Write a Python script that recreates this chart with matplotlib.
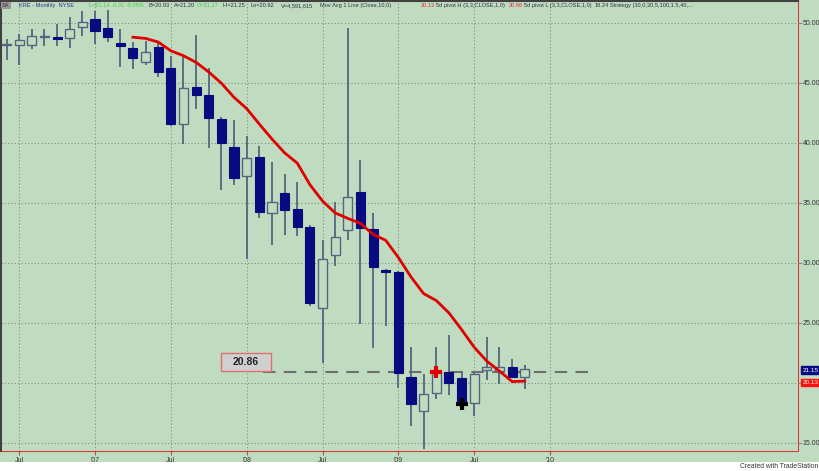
import numpy as np
import pandas as pd
import matplotlib
matplotlib.use('Agg')
import matplotlib.pyplot as plt
import matplotlib.transforms as mtransforms
from matplotlib import font_manager
from matplotlib.patches import Rectangle

# DATA  (KRE monthly bars, Jun 2006 .. Nov 2009)
opens  = [48.10, 48.15, 48.15, 48.80, 48.75, 48.70, 49.60, 50.28, 49.53, 48.28,
          47.92, 46.73, 48.00, 46.20, 41.56, 44.67, 43.95, 41.95, 39.62, 37.23,
          38.83, 34.17, 35.78, 34.45, 33.00, 26.25, 30.64, 32.72, 35.92, 32.78,
          29.40, 29.25, 20.50, 17.67, 19.17, 20.89, 20.36, 18.33, 21.08, 21.00,
          21.27, 20.50]
highs  = [48.60, 49.06, 49.45, 49.47, 49.87, 50.45, 51.00, 50.94, 51.06, 49.45,
          48.37, 48.50, 48.33, 47.22, 47.10, 48.98, 46.20, 42.17, 41.90, 40.56,
          39.73, 38.42, 37.39, 36.70, 33.10, 31.89, 35.08, 49.53, 38.56, 34.17,
          29.45, 29.30, 22.95, 20.73, 22.95, 23.97, 20.78, 20.83, 23.78, 23.00,
          21.95, 21.48]
lows   = [46.90, 46.47, 47.78, 48.06, 48.06, 47.87, 48.90, 48.20, 48.42, 46.28,
          46.12, 46.44, 45.45, 41.39, 39.90, 42.78, 39.53, 36.06, 36.48, 30.30,
          33.70, 31.48, 32.31, 32.22, 26.40, 21.62, 29.72, 31.89, 24.89, 22.87,
          24.73, 19.53, 16.42, 14.45, 18.61, 18.97, 17.78, 17.22, 20.22, 19.90,
          20.36, 19.44]
closes = [48.20, 48.55, 48.90, 48.85, 48.65, 49.50, 50.05, 49.33, 48.83, 48.08,
          47.08, 47.56, 45.87, 41.56, 44.53, 43.95, 42.03, 40.00, 37.03, 38.73,
          34.20, 35.08, 34.39, 33.00, 26.62, 30.28, 32.11, 35.44, 32.86, 29.62,
          29.20, 20.78, 18.20, 19.08, 20.86, 20.00, 18.24, 20.70, 21.27, 21.33,
          20.44, 21.15]

tick_pos    = [1, 7, 13, 19, 25, 31, 37, 43]
tick_labels = ['Jul', "'07", 'Jul', "'08", 'Jul', "'09", 'Jul', "'10"]
price_ticks = [15, 20, 25, 30, 35, 40, 45, 50]

MA_LEN = 10
pivot_h_bar, pivot_l_bar = 34, 36
pivot_h = 20.86

BG = '#c0dcc0'
DOWN = '#0a0a80'
WICK = '#55657f'

# small narrow font like the TradeStation screen font
installed = {f.name for f in font_manager.fontManager.ttflist}
if 'Liberation Sans Narrow' in installed:
    HFONT, HSIZE = 'Liberation Sans Narrow', 5.0
else:
    HFONT, HSIZE = 'Liberation Sans', 4.1
plt.rcParams['font.family'] = ['Liberation Sans', 'DejaVu Sans']

x = np.arange(len(closes))
o = np.array(opens); h = np.array(highs); l = np.array(lows); c = np.array(closes)
ma = pd.Series(c).rolling(MA_LEN).mean().values

fig = plt.figure(figsize=(8.2, 4.71), dpi=100, facecolor=BG)
ax = fig.add_axes([1/820, 1 - 450.7/471, 796.7/820, 449.7/471])
ax.set_facecolor(BG)

# grid
ax.set_xticks(tick_pos)
ax.set_xticklabels(tick_labels)
ax.set_yticks(price_ticks)
ax.set_yticklabels(['' if p == 20 else f'{p:.2f}' for p in price_ticks])
ax.grid(True, color='#7f917f', linestyle=(0, (1, 2)), linewidth=0.8, zorder=0)

# candles
up = c >= o
ax.vlines(x, l, h, color=WICK, linewidth=1.3, zorder=2)
body = np.maximum(np.abs(c - o), 0.12)
ax.bar(x[~up], body[~up], bottom=np.minimum(o, c)[~up], width=0.72,
       color=DOWN, edgecolor=DOWN, linewidth=0.8, zorder=3)
ax.bar(x[up], body[up], bottom=np.minimum(o, c)[up], width=0.72,
       color=BG, edgecolor=WICK, linewidth=1.0, zorder=3)

# moving average (first value drawn on bar 11, like TradeStation)
ax.plot(x[MA_LEN:], ma[MA_LEN:], color='#e00000', linewidth=2, zorder=4)

# pivot markers + pivot line
ax.plot(pivot_h_bar, c[pivot_h_bar], '+', color='#e00000', ms=9, mew=3, zorder=5)
ax.plot(pivot_l_bar, c[pivot_l_bar], '+', color='black', ms=9, mew=3, zorder=5)
ax.hlines(pivot_h, 20.3, 46.0, color='#6e6e6e', linestyle=(0, (6, 4)),
          linewidth=1.5, zorder=1)
ax.add_patch(Rectangle((17.0, pivot_h + 0.08), 3.9, 1.53, facecolor='#d0d0d0',
                       edgecolor='#e07070', linewidth=1, zorder=6))
ax.text(18.95, pivot_h + 0.85, f'{pivot_h:.2f}', ha='center', va='center',
        fontsize=7.5, fontweight='bold', color='#222222', zorder=7)

ax.set_xlim(-0.44, 62.6)
ax.set_ylim(14.33, 51.8)

# axes styling
ax.yaxis.tick_right()
ax.tick_params(axis='y', length=3, color='#888888', labelsize=5,
               labelcolor='#333333', pad=0.5)
ax.tick_params(axis='x', length=3, color='#d04040', labelsize=5,
               labelcolor='#333333', pad=1.5)
for s in ['right', 'bottom']:
    ax.spines[s].set_color('#d04040')
for s in ['left', 'top']:
    ax.spines[s].set_color('#404040')
    ax.spines[s].set_linewidth(1.5)

# last price / MA tags on the price axis
trans = mtransforms.blended_transform_factory(ax.transAxes, ax.transData)
ax.text(1.006, c[-1] - 0.1, f'{c[-1]:.2f}', transform=trans, fontsize=4.6,
        color='white', va='center', ha='left', clip_on=False,
        bbox=dict(boxstyle='square,pad=0.2', fc=DOWN, ec=DOWN))
ax.text(1.006, ma[-1] - 0.12, f'{ma[-1]:.2f}', transform=trans, fontsize=4.6,
        color='white', va='center', ha='left', clip_on=False,
        bbox=dict(boxstyle='square,pad=0.2', fc='#ff1010', ec='#ff1010'))

# header line
hy = 1 - 5.5/471
fig.text(2/820, hy, 'SA', fontsize=HSIZE, family=HFONT, color='#303030',
         va='center', bbox=dict(boxstyle='square,pad=0.25', fc='#9a9a9a', ec='none'))
header = [
    (19, 'KRE - Monthly  NYSE', '#1a3a8a'),
    (89, 'L=21.14 -0.01 -0.05%', '#40d040'),
    (149, 'B=20.93', '#303040'),
    (174, 'A=21.20', '#303040'),
    (197, 'O=21.17', '#40d040'),
    (223, 'Hi=21.25', '#303040'),
    (251, 'Lo=20.92', '#303040'),
    (281, 'V=4,591,615', '#303040'),
    (320, 'Mov Avg 1 Line (Close,10,0)', '#303040'),
    (421, f'{ma[-1]:.2f}', '#e03030'),
    (436, '5d pivot H (3,3,CLOSE,1,0)', '#303040'),
    (509, f'{pivot_h:.2f}', '#e03030'),
    (524, '5d pivot L (3,3,CLOSE,1,0)', '#303040'),
    (595, f'{c[pivot_l_bar]:.2f}', '#303040'),
    (610, 'Strategy (30,0,30,5,100,1.5,40,...', '#303040'),
]
for px, txt, col in header:
    fig.text(px/820, hy, txt, fontsize=HSIZE, family=HFONT, color=col, va='center')

# white footer strip
fig.patches.append(Rectangle((0, 0), 1, 9.3/471, transform=fig.transFigure,
                             facecolor='white', edgecolor='none'))
fig.text(818/820, 4.5/471, 'Created with TradeStation', fontsize=4.9,
         family=HFONT, color='#333333', ha='right', va='center')

fig.savefig('out.png', dpi=100, facecolor=BG)
